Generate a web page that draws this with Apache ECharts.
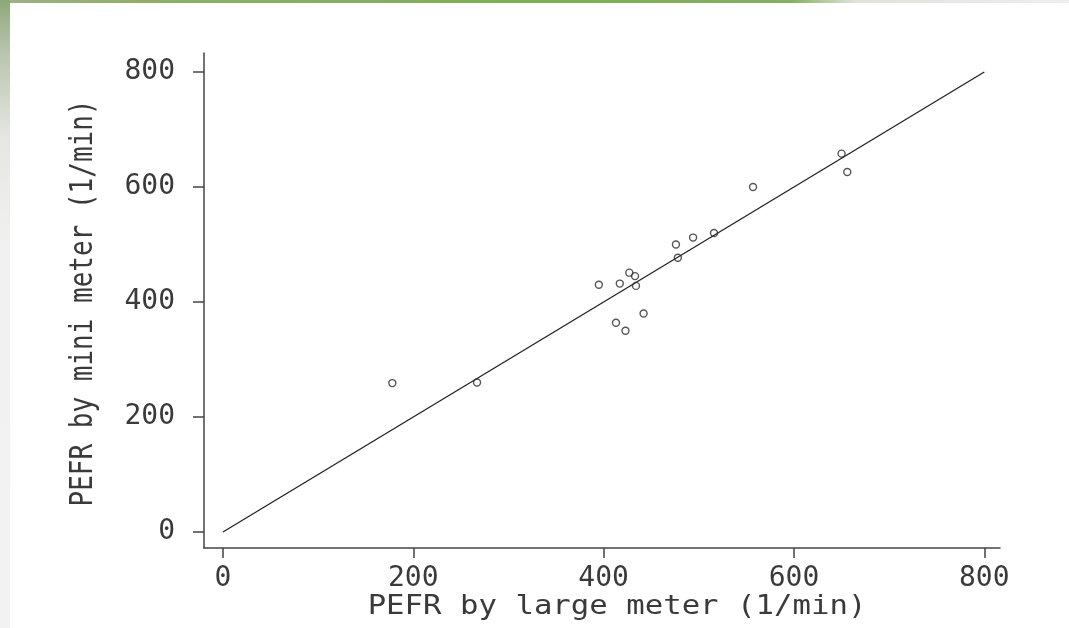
<!DOCTYPE html>
<html>
<head>
<meta charset="utf-8">
<style>
  html, body { margin: 0; padding: 0; background: #ffffff; }
  #chart { width: 1069px; height: 628px; }
</style>
<script src="https://cdn.jsdelivr.net/npm/echarts@6/dist/echarts.min.js"></script>
</head>
<body>
<div id="chart"></div>
<script>
// Peak expiratory flow rate (l/min) measured with the large and the mini meter
const largeMeter = [494, 395, 516, 434, 476, 557, 413, 442, 650, 433, 417, 656, 267, 478, 178, 423, 427];
const miniMeter  = [512, 430, 520, 428, 500, 600, 364, 380, 658, 445, 432, 626, 260, 477, 259, 350, 451];

// Line of equality, drawn from 0 to 800 on both axes
const equalityLine = [0, 800];

// Tick values shown on both axes
const tickValues = [0, 200, 400, 600, 800];

const xTitle = 'PEFR by large meter (1/min)';
const yTitle = 'PEFR by mini meter (1/min)';

const points = largeMeter.map((v, i) => [v, miniMeter[i]]);
const lineData = equalityLine.map(v => [v, v]);

const FONT = '"DejaVu Sans Mono", "Liberation Mono", monospace';
const INK = '#3a3a3a';

const chart = echarts.init(document.getElementById('chart'), null, { renderer: 'canvas' });

chart.setOption({
  backgroundColor: '#ffffff',
  animation: false,
  grid: { left: 204, right: 69, top: 53, bottom: 80, containLabel: false },
  xAxis: {
    type: 'value',
    min: -19.9,
    max: 816.5,
    axisLine: { show: true, onZero: false, lineStyle: { color: '#444', width: 1.5 } },
    axisTick: { show: true, length: 10, inside: false, customValues: tickValues,
                lineStyle: { color: '#444', width: 1.5 } },
    axisLabel: { customValues: tickValues, color: INK, fontFamily: FONT, fontSize: 28, margin: 17 },
    splitLine: { show: false }
  },
  yAxis: {
    type: 'value',
    min: -27.8,
    max: 833,
    axisLine: { show: true, onZero: false, lineStyle: { color: '#444', width: 1.5 } },
    axisTick: { show: true, length: 11, inside: false, customValues: tickValues,
                lineStyle: { color: '#444', width: 1.5 } },
    axisLabel: { customValues: tickValues, color: INK, fontFamily: FONT, fontSize: 28, margin: 29 },
    splitLine: { show: false }
  },
  graphic: [
    // thin coloured frame strips along the top and left edges
    {
      type: 'rect', silent: true, z: 0,
      shape: { x: 0, y: 0, width: 1069, height: 3 },
      style: {
        fill: new echarts.graphic.LinearGradient(0, 0, 1, 0, [
          { offset: 0, color: '#9cb088' },
          { offset: 0.12, color: '#8fb06a' },
          { offset: 0.5, color: '#7fae55' },
          { offset: 0.74, color: '#86b060' },
          { offset: 0.8, color: '#dfe3da' },
          { offset: 1, color: '#eeeeee' }
        ])
      }
    },
    {
      type: 'rect', silent: true, z: 0,
      shape: { x: 0, y: 0, width: 10, height: 628 },
      style: {
        fill: new echarts.graphic.LinearGradient(0, 0, 0, 1, [
          { offset: 0, color: '#8ea878' },
          { offset: 0.08, color: '#b7c4ac' },
          { offset: 0.22, color: '#e6e6e2' },
          { offset: 0.4, color: '#f1f1f1' },
          { offset: 1, color: '#f2f2f2' }
        ])
      }
    },
    // axis titles, slightly widened like the plotting font
    {
      type: 'text', silent: true,
      x: 617, y: 607,
      scaleX: 1.18,
      style: {
        text: xTitle, fill: INK, font: '26px ' + FONT,
        align: 'center', verticalAlign: 'middle'
      }
    },
    {
      type: 'text', silent: true,
      x: 84, y: 303,
      rotation: Math.PI / 2,
      scaleY: 1.2,
      style: {
        text: yTitle, fill: INK, font: '26px ' + FONT,
        align: 'center', verticalAlign: 'middle'
      }
    }
  ],
  series: [
    {
      type: 'line',
      data: lineData,
      symbol: 'none',
      lineStyle: { color: '#222', width: 1.3 },
      z: 2
    },
    {
      type: 'scatter',
      data: points,
      symbol: 'circle',
      symbolSize: 7,
      itemStyle: { color: 'rgba(255,255,255,0)', borderColor: '#2a2a2a', borderWidth: 1.4 },
      z: 3
    }
  ]
});
</script>
</body>
</html>
